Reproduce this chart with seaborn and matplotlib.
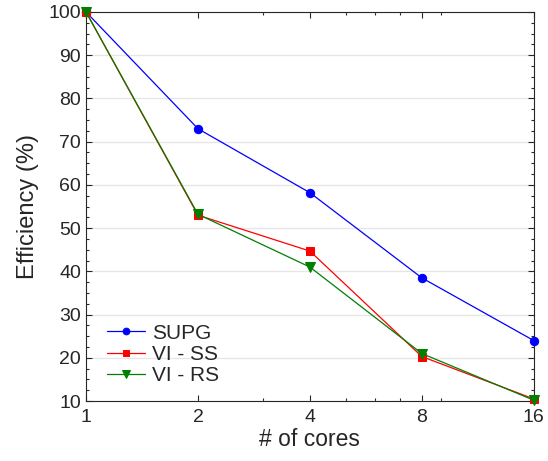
import numpy as np
import pandas as pd
import matplotlib
matplotlib.use("Agg")
import matplotlib.pyplot as plt
import seaborn as sns
from matplotlib.ticker import FixedLocator, MultipleLocator, NullFormatter

cores = [1, 2, 4, 8, 16]
supg = [100, 73.0, 58.2, 38.5, 24.0]
vi_ss = [100, 53.0, 44.7, 20.3, 10.5]
vi_rs = [100, 53.2, 41.0, 21.0, 10.2]

series = ["SUPG", "VI - SS", "VI - RS"]
colors = ["#0000ff", "#ff0000", "#008000"]
markers = ["o", "s", "v"]

sns.set_style("ticks")
plt.rcParams["font.family"] = ["Liberation Sans", "DejaVu Sans"]
plt.rcParams["font.size"] = 14

fig = plt.figure(figsize=(5.48, 4.61), dpi=100)
ax = fig.add_axes([0.157, 0.130, 0.817, 0.844])

for name, vals, c, m in zip(series, [supg, vi_ss, vi_rs], colors, markers):
    sns.lineplot(x=cores, y=vals, ax=ax, color=c, marker=m,
                 markersize=7 if m == "v" else 6,
                 markeredgecolor=c, linewidth=0.9, label=name, clip_on=False,
                 zorder=3)

ax.set_xscale("log", base=2)
ax.set_xlim(1, 16)
ax.set_ylim(10, 100)
ax.xaxis.set_major_locator(FixedLocator(cores))
ax.set_xticklabels([str(c) for c in cores])
ax.xaxis.set_minor_locator(FixedLocator([3, 5, 6, 7, 9]))
ax.xaxis.set_minor_formatter(NullFormatter())
ax.yaxis.set_major_locator(MultipleLocator(10))
ax.yaxis.set_minor_locator(MultipleLocator(2.5))

ax.tick_params(which="both", direction="in", top=True, right=True,
               colors="#262626", labelcolor="#262626", width=0.8)
ax.tick_params(which="major", length=4, labelsize=14)
ax.tick_params(axis="x", which="major", pad=6)
ax.tick_params(which="minor", length=2.5)
for s in ax.spines.values():
    s.set_color("#262626")
    s.set_linewidth(0.8)

ax.grid(axis="y", which="major", color="#e6e6e6", linewidth=0.9)
ax.set_axisbelow(True)

ax.set_xlabel("# of cores", fontsize=16.5, color="#262626", labelpad=1)
ax.set_ylabel("Efficiency (%)", fontsize=17, color="#262626", labelpad=7)

ax.legend(loc="lower left", bbox_to_anchor=(0.028, 0.02), frameon=False,
          fontsize=15, handlelength=1.85, handletextpad=0.33, labelspacing=0.1,
          markerscale=0.8, borderaxespad=0)

fig.savefig("out.png", dpi=100)
